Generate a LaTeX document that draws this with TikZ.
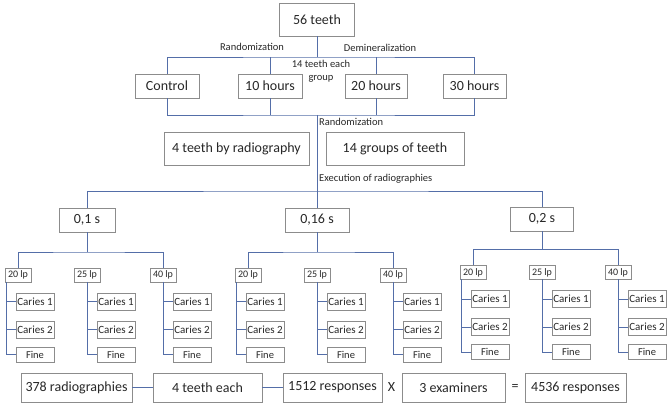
\documentclass[tikz,border=0pt]{standalone}
\usepackage{fontspec}
\setmainfont{Carlito}
\usepackage{tikz}
\definecolor{linkblue}{RGB}{84,110,168}
\definecolor{boxgray}{RGB}{140,140,140}
\definecolor{txt}{RGB}{40,40,40}
\tikzset{
  bigbox/.style 2 args={draw=boxgray,line width=0.8pt,fill=white,text=txt,inner sep=0pt,
    minimum width=#1,minimum height=#2,font=\fontsize{14}{16}\selectfont},
  lpbox/.style={draw=boxgray,line width=0.7pt,fill=white,text=txt,inner sep=0pt,
    minimum width=26,minimum height=14,font=\fontsize{10}{12}\selectfont},
  cbox/.style={draw=boxgray,line width=0.7pt,fill=white,text=txt,inner sep=0pt,
    minimum width=38,minimum height=17,font=\fontsize{11}{13}\selectfont},
  finebox/.style={cbox,minimum height=15,font=\fontsize{10.5}{12}\selectfont},
  link/.style={draw=linkblue,line width=0.9pt},
  lbl/.style={text=txt,inner sep=0pt,font=\fontsize{10.5}{13}\selectfont}
}
\begin{document}
\begin{tikzpicture}[x=1pt,y=-1pt]
  \useasboundingbox (0,0) rectangle (667,406);
  % groups of teeth
  \node[bigbox={75}{33}] (teeth) at (317,19.5) {56 teeth};
  \node[bigbox={64}{24}] (ctrl) at (167,86) {Control};
  \node[bigbox={64}{24}] (hten) at (270,86) {10 hours};
  \node[bigbox={62}{24}] (htwenty) at (376,86) {20 hours};
  \node[bigbox={63}{24}] (hthirty) at (474.5,86) {30 hours};
  \coordinate (topbar) at (317,57);
  \coordinate (midbar) at (317,115);
  \draw[link] (teeth.south) -- (topbar);
  \draw[link] (ctrl.north) |- (topbar) -| (hthirty.north);
  \draw[link] (hten.north) -- (hten.north |- topbar);
  \draw[link] (htwenty.north) -- (htwenty.north |- topbar);
  \draw[link] (ctrl.south) |- (midbar) -| (hthirty.south);
  \draw[link] (hten.south) -- (hten.south |- midbar);
  \draw[link] (htwenty.south) -- (htwenty.south |- midbar);
  \node[lbl] (rnda) at (252,47) {Randomization};
  \node[lbl] (demin) at (380,48) {Demineralization};
  \node[lbl,align=center] (each) at (321,71.5) {14 teeth each\\group};
  \node[lbl,anchor=west] (rndb) at (319,122) {Randomization};

  \node[bigbox={145}{33}] (byrad) at (236.5,148.5) {4 teeth by radiography};
  \node[bigbox={138}{33}] (fourteen) at (395,148.5) {14 groups of teeth};
  \node[lbl,anchor=west] (exec) at (319,179) {Execution of radiographies};

  % exposure times
  \node[bigbox={56}{24}] (expa) at (87,220) {0,1 s};
  \node[bigbox={64}{24}] (expb) at (317,220) {0,16 s};
  \node[bigbox={63}{24}] (expc) at (542,219) {0,2 s};
  \coordinate (execbar) at (317,191);
  \draw[link] (midbar) -- (expb.north);
  \draw[link] (expa.north) |- (execbar) -| (expc.north);

  \foreach \g/\cx/\dy in {a/87/0,b/317/0,c/542/-2.5}{
    \coordinate (bar\g) at (\cx,{252+\dy});
    \draw[link] (exp\g.south) -- (bar\g);
    \foreach \res/\ox/\vx in {20/-69/-81,25/0/0,40/76/76}{
      \node[lpbox] (lp\g\res) at ({\cx+\ox},{275+\dy}) {\res\ lp};
      \coordinate (v\g\res) at ({\cx+\vx},{282+\dy});
      \node[cbox] (ca\g\res) at ({\cx+\vx+29},{301.5+\dy}) {Caries 1};
      \node[cbox] (cb\g\res) at ({\cx+\vx+29},{329.5+\dy}) {Caries 2};
      \node[finebox] (fi\g\res) at ({\cx+\vx+29},{354.5+\dy}) {Fine};
      \draw[link] (v\g\res) |- (fi\g\res.west);
      \draw[link] (ca\g\res.west) -- (ca\g\res.west -| v\g\res);
      \draw[link] (cb\g\res.west) -- (cb\g\res.west -| v\g\res);
    }
    \draw[link] (lp\g20.north) |- (bar\g) -| (lp\g40.north);
  }

  % totals
  \node[bigbox={111}{29}] (radios) at (76.5,387.5) {378 radiographies};
  \node[bigbox={109}{29}] (foureach) at (207.5,387.5) {4 teeth each};
  \node[bigbox={99}{29}] (resp) at (332.5,387.5) {1512 responses};
  \node[bigbox={103}{29}] (exam) at (453.5,387.5) {3 examiners};
  \node[bigbox={101}{29}] (total) at (575.5,387.5) {4536 responses};
  \node[text=txt,font=\fontsize{14}{16}\selectfont] (times) at (391.5,387.5) {X};
  \node[text=txt,font=\fontsize{14}{16}\selectfont] (equals) at (515,387.5) {=};
  \draw[link] (radios) -- (foureach);
  \draw[link] (foureach) -- (resp);
\end{tikzpicture}
\end{document}
